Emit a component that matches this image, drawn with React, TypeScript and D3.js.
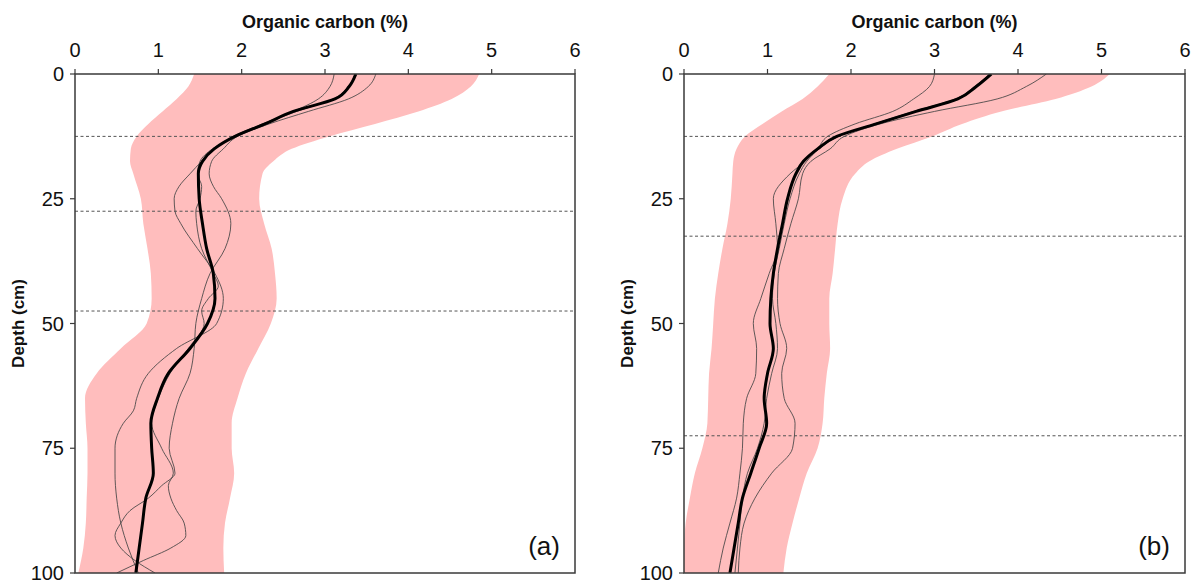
import React from "react";
import * as d3 from "d3";

// Axis ticks shared by both panels
const xTicks = [0, 1, 2, 3, 4, 5, 6];
const yTicks = [0, 25, 50, 75, 100];

// Depths (cm) at which the envelope edges are given
const bandDepths = [0, 2.5, 5, 7.5, 10, 12.5, 15, 17.5, 20, 25, 30, 35, 40, 45, 50, 55, 60, 65, 70, 75, 80, 85, 90, 95, 100];

// Panel (a): envelope lower / upper edge (organic carbon %)
const bandLoA = [1.43, 1.36, 1.22, 1.05, 0.88, 0.74, 0.67, 0.66, 0.70, 0.79, 0.82, 0.87, 0.91, 0.92, 0.86, 0.55, 0.26, 0.12, 0.13, 0.15, 0.15, 0.14, 0.13, 0.10, 0.04];
const bandHiA = [4.85, 4.75, 4.52, 4.12, 3.60, 3.05, 2.60, 2.38, 2.25, 2.21, 2.27, 2.36, 2.40, 2.42, 2.35, 2.20, 2.05, 1.95, 1.88, 1.88, 1.91, 1.86, 1.80, 1.78, 1.79];

// Panel (b): envelope lower / upper edge
const bandLoB = [1.74, 1.60, 1.42, 1.17, 0.94, 0.73, 0.63, 0.59, 0.58, 0.56, 0.52, 0.46, 0.41, 0.37, 0.35, 0.33, 0.30, 0.29, 0.28, 0.22, 0.13, 0.07, 0.02, 0.0, 0.0];
const bandHiB = [5.10, 4.88, 4.45, 3.80, 3.33, 2.97, 2.55, 2.22, 2.05, 1.90, 1.84, 1.81, 1.78, 1.74, 1.74, 1.75, 1.71, 1.68, 1.66, 1.60, 1.47, 1.38, 1.30, 1.23, 1.19];

// Panel (a): mean profile [depth, OC]
const meanA: [number, number][] = [[0, 3.37], [2.5, 3.29], [5, 3.12], [7.5, 2.62], [10, 2.28], [12.5, 1.92], [15, 1.67], [17.5, 1.53], [20, 1.48], [25, 1.49], [30, 1.53], [35, 1.58], [40, 1.66], [45, 1.68], [50, 1.59], [55, 1.38], [60, 1.12], [65, 0.99], [70, 0.91], [75, 0.92], [80, 0.94], [85, 0.85], [90, 0.81], [95, 0.77], [100, 0.73]];

// Panel (a): individual profiles
const profA1: [number, number][] = [[0, 3.11], [2.5, 3.06], [5, 2.92], [7.5, 2.62], [10, 2.25], [12.5, 1.90], [15, 1.68], [17.5, 1.52], [20, 1.38], [22.5, 1.25], [25, 1.19], [27.5, 1.20], [30, 1.27], [35, 1.47], [40, 1.68], [45, 1.78], [50, 1.70], [55, 1.22], [60, 0.88], [65, 0.74], [67.5, 0.70], [70, 0.58], [75, 0.48], [80, 0.48], [85, 0.50], [90, 0.55], [95, 0.64], [100, 0.76]];
const profA2: [number, number][] = [[0, 3.36], [2.5, 3.28], [5, 3.10], [7.5, 2.66], [10, 2.27], [12.5, 1.92], [15, 1.65], [17.5, 1.50], [20, 1.47], [22.5, 1.52], [25, 1.50], [27.5, 1.45], [30, 1.46], [35, 1.52], [40, 1.66], [42.5, 1.72], [45, 1.60], [47.5, 1.52], [50, 1.55], [55, 1.36], [60, 1.14], [65, 1.00], [70, 0.92], [75, 1.04], [80, 1.18], [82.5, 1.12], [85, 1.15], [87.5, 1.22], [90, 1.31], [92.5, 1.33], [95, 1.15], [97.5, 0.82], [100, 0.50]];
const profA3: [number, number][] = [[0, 3.61], [2.5, 3.52], [5, 3.28], [7.5, 2.80], [10, 2.33], [12.5, 1.95], [15, 1.78], [17.5, 1.64], [20, 1.61], [22.5, 1.66], [25, 1.76], [30, 1.87], [35, 1.80], [40, 1.62], [45, 1.52], [50, 1.45], [55, 1.43], [60, 1.38], [65, 1.25], [70, 1.17], [75, 1.13], [80, 1.20], [82.5, 1.04], [85, 0.88], [87.5, 0.66], [90, 0.55], [92.5, 0.48], [95, 0.55], [97.5, 0.72], [100, 0.96]];

// Panel (b): mean profile
const meanB: [number, number][] = [[0, 3.68], [2.5, 3.50], [5, 3.28], [7.5, 2.78], [10, 2.30], [12.5, 1.83], [15, 1.60], [17.5, 1.43], [20, 1.34], [25, 1.24], [30, 1.18], [35, 1.12], [40, 1.07], [45, 1.04], [50, 1.03], [55, 1.07], [60, 1.00], [65, 0.96], [70, 0.99], [75, 0.90], [80, 0.80], [85, 0.70], [90, 0.65], [95, 0.60], [100, 0.55]];

// Panel (b): individual profiles
const profB1: [number, number][] = [[0, 3.00], [2.5, 2.94], [5, 2.75], [7.5, 2.50], [10, 2.05], [12.5, 1.72], [15, 1.60], [17.5, 1.45], [20, 1.27], [25, 1.07], [30, 1.10], [35, 1.12], [40, 1.02], [45, 0.92], [50, 0.83], [55, 0.87], [60, 0.86], [65, 0.75], [70, 0.71], [75, 0.70], [80, 0.67], [85, 0.63], [90, 0.55], [95, 0.47], [100, 0.41]];
const profB2: [number, number][] = [[0, 3.66], [2.5, 3.48], [5, 3.25], [7.5, 2.75], [10, 2.28], [12.5, 1.85], [15, 1.62], [17.5, 1.47], [20, 1.38], [25, 1.27], [30, 1.20], [35, 1.14], [40, 1.08], [45, 1.06], [50, 1.10], [55, 1.12], [60, 1.05], [65, 0.99], [70, 0.96], [75, 0.88], [80, 0.76], [85, 0.70], [90, 0.67], [95, 0.64], [100, 0.61]];
const profB3: [number, number][] = [[0, 4.34], [2.5, 4.10], [5, 3.75], [7.5, 3.00], [10, 2.35], [12.5, 1.92], [15, 1.75], [17.5, 1.52], [20, 1.42], [25, 1.37], [30, 1.28], [35, 1.20], [40, 1.13], [45, 1.12], [50, 1.15], [55, 1.23], [60, 1.17], [65, 1.20], [70, 1.33], [75, 1.30], [80, 1.05], [85, 0.85], [90, 0.72], [95, 0.67], [100, 0.65]];

// Depths of horizontal horizon boundaries
const layersA = [12.5, 27.5, 47.5];
const layersB = [12.5, 32.5, 72.5];

const FONT = "'Liberation Sans', Arial, sans-serif";

type PanelProps = {
  left: number;
  top: number;
  width: number;
  height: number;
  bandLo: number[];
  bandHi: number[];
  mean: [number, number][];
  profiles: [number, number][][];
  layers: number[];
  tag: string;
};

function Panel({ left, top, width, height, bandLo, bandHi, mean, profiles, layers, tag }: PanelProps) {
  const x = d3.scaleLinear().domain([0, 6]).range([left, left + width]);
  const y = d3.scaleLinear().domain([0, 100]).range([top, top + height]);

  const band = d3
    .area<number>()
    .y((d) => y(d))
    .x0((_, i) => x(bandLo[i]))
    .x1((_, i) => x(bandHi[i]))
    .curve(d3.curveMonotoneY);

  const line = d3
    .line<[number, number]>()
    .x((d) => x(d[1]))
    .y((d) => y(d[0]))
    .curve(d3.curveMonotoneY);

  const clipId = `clip-${tag}`;
  const axisColor = "#3a3a3a";

  return (
    <g>
      <defs>
        <clipPath id={clipId}>
          <rect x={left} y={top} width={width} height={height} />
        </clipPath>
      </defs>
      <g clipPath={`url(#${clipId})`}>
        <path d={band(bandDepths) || ""} fill="#ffbdbd" stroke="none" />
        {layers.map((d) => (
          <line
            key={d}
            x1={left}
            x2={left + width}
            y1={y(d)}
            y2={y(d)}
            stroke="#555"
            strokeWidth={1}
            strokeDasharray="3,2.5"
          />
        ))}
        {profiles.map((p, i) => (
          <path key={i} d={line(p) || ""} fill="none" stroke="#444" strokeOpacity={0.85} strokeWidth={1} />
        ))}
        <path d={line(mean) || ""} fill="none" stroke="#000" strokeWidth={3} strokeLinejoin="round" />
      </g>
      <rect x={left} y={top} width={width} height={height} fill="none" stroke={axisColor} strokeWidth={1.5} />
      {xTicks.map((t) => (
        <g key={`x${t}`}>
          <line x1={x(t)} x2={x(t)} y1={top} y2={top - 5} stroke={axisColor} strokeWidth={1.2} />
          <text x={x(t)} y={top - 17} textAnchor="middle" fontFamily={FONT} fontSize={20} fill="#111">
            {t}
          </text>
        </g>
      ))}
      {yTicks.map((t) => (
        <g key={`y${t}`}>
          <line x1={left} x2={left - 5} y1={y(t)} y2={y(t)} stroke={axisColor} strokeWidth={1.2} />
          <text x={left - 11} y={y(t) + 7} textAnchor="end" fontFamily={FONT} fontSize={20} fill="#111">
            {t}
          </text>
        </g>
      ))}
      <text
        x={left + width / 2}
        y={28}
        textAnchor="middle"
        fontFamily={FONT}
        fontSize={18}
        fontWeight="bold"
        fill="#111"
      >
        Organic carbon (%)
      </text>
      <text
        transform={`translate(${left - 51},${top + height / 2}) rotate(-90)`}
        textAnchor="middle"
        fontFamily={FONT}
        fontSize={17}
        fontWeight="bold"
        fill="#111"
      >
        Depth (cm)
      </text>
      <text x={left + width - 15} y={top + height - 18} textAnchor="end" fontFamily={FONT} fontSize={26} fill="#111">
        ({tag})
      </text>
    </g>
  );
}

export default function App() {
  return (
    <svg
      width={1198}
      height={586}
      viewBox="0 0 1198 586"
      style={{ position: "absolute", left: 0, top: 0, background: "#fff" }}
    >
      <Panel
        left={75}
        top={74}
        width={500}
        height={499}
        bandLo={bandLoA}
        bandHi={bandHiA}
        mean={meanA}
        profiles={[profA1, profA2, profA3]}
        layers={layersA}
        tag="a"
      />
      <Panel
        left={684}
        top={74}
        width={501}
        height={499}
        bandLo={bandLoB}
        bandHi={bandHiB}
        mean={meanB}
        profiles={[profB1, profB2, profB3]}
        layers={layersB}
        tag="b"
      />
    </svg>
  );
}
